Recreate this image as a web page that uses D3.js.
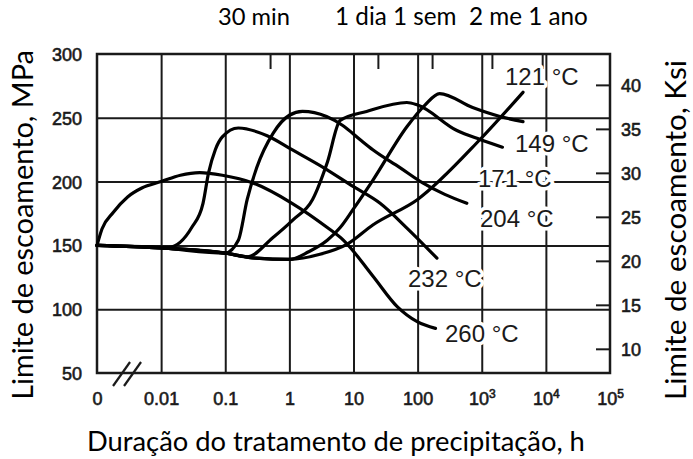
<!DOCTYPE html>
<html lang="pt">
<head>
<meta charset="UTF-8">
<title>Limite de escoamento x tempo de envelhecimento</title>
<style>
  body { margin: 0; background: #fff; }
  svg { display: block; }
  .curve-lbl { font-family: "Liberation Sans", Arial, sans-serif; font-size: 24px; fill: #1a1a1a;
               stroke: #fff; stroke-width: 7px; paint-order: stroke; stroke-linejoin: round; }
  .title { font-family: Lato, "Open Sans", sans-serif; fill: #000; white-space: pre; }
</style>
</head>
<body>
<script src="https://cdn.jsdelivr.net/npm/d3@7"></script>
<script>

var w = 693, h = 459;
var pLeft = 97, pRight = 610, pTop = 54, pBottom = 373;

// eixo x em horas (0 = inicio, desenhado uma decada antes de 0.01)
var xTicks = [0, 0.01, 0.1, 1, 10, 100, 1e3, 1e4, 1e5];
var xTickLabels = ["0", "0.01", "0.1", "1", "10", "100", "10|3", "10|4", "10|5"];
var mpaTicks = [50, 100, 150, 200, 250, 300];
var ksiTicks = [10, 15, 20, 25, 30, 35, 40];

// marcas no topo: 30 min, 1 dia, 1 semana, 2 meses, 1 ano (em horas)
var marcoHoras = [0.5, 24, 168, 1440, 8760];

// curvas: [horas, MPa]
var c121 = [[0,150],[0.01,148],[0.1,144],[0.3,140],[1,139],[3,143],[8,151],[20,166],[100,186],[940,233],[4400,270]];
var c149 = [[0,150],[0.01,148],[0.1,144],[0.3,140],[1,139],[2,145],[3.9,154],[6.2,164],[9.8,178],[20,201],[68,243],[130,260],[220,269],[720,258],[1920,251],[4400,247]];
var c171 = [[0,150],[0.01,148],[0.1,144],[0.22,141],[0.55,156],[1.14,170],[2.3,186],[3.9,215],[6.2,248],[16,255],[68,262],[100,260],[410,240],[940,233],[2100,227]];
var c204 = [[0,150],[0.01,148],[0.1,144],[0.16,154],[0.22,186],[0.31,211],[0.56,238],[1.0,252],[1.6,255],[3.8,251],[6.8,244],[12.6,233],[20,225],[53,211],[120,199],[265,190],[585,183]];
var c232 = [[0,150],[0.005,149],[0.013,148.5],[0.03,164],[0.045,183],[0.055,207],[0.07,225],[0.09,235],[0.16,242],[0.45,236],[1.1,225],[3.4,211],[10,196],[26,183],[70,163],[200,140]];
var c260 = [[0,150],[0.0012,163],[0.0018,176],[0.003,188],[0.005,195],[0.01,200],[0.02,205],[0.04,207],[0.09,205],[0.27,199],[1.1,183],[3.9,164],[7,154],[20,126],[48,102],[100,90],[190,85]];

var curvas = [c121, c149, c171, c204, c232, c260];
var rotulos = ["121 °C", "149 °C", "171 °C", "204 °C", "232 °C", "260 °C"];
// posicao dos rotulos (px)
var rotPos = [[505, 85], [515, 152], [478, 187], [480, 227], [408, 287], [445, 342]];

var x = d3.scaleLog().domain([0.001, 1e5]).range([pLeft, pRight]);
var y = d3.scaleLinear().domain([50, 300]).range([pBottom, pTop]);
var yKsi = d3.scaleLinear().domain([50 / 6.895, 300 / 6.895]).range([pBottom, pTop]);
function xPos(t) { return t === 0 ? x(0.001) : x(t); }

var svg = d3.select("body").append("svg")
            .attr("width", w)
            .attr("height", h);

var ink = "#1a1a1a";

function styleLines(g) {
  g.select(".domain").remove();
  g.selectAll("line").attr("stroke", ink).attr("stroke-width", 2);
}

// grade vertical
svg.append("g")
   .attr("transform", "translate(0," + pBottom + ")")
   .call(d3.axisBottom(x).tickValues(xTicks.slice(1, -1)).tickSize(-(pBottom - pTop)).tickFormat(""))
   .call(styleLines);

// grade horizontal
svg.append("g")
   .attr("transform", "translate(" + pLeft + ",0)")
   .call(d3.axisLeft(y).tickValues(mpaTicks.slice(1, -1)).tickSize(-(pRight - pLeft)).tickFormat(""))
   .call(styleLines);

// marcas ksi (para dentro, na borda direita)
svg.append("g")
   .attr("transform", "translate(" + pRight + ",0)")
   .call(d3.axisLeft(yKsi).tickValues(ksiTicks).tickSize(14).tickFormat(""))
   .call(styleLines);

// marcas de tempo no topo
svg.append("g")
   .attr("transform", "translate(0," + pTop + ")")
   .call(d3.axisBottom(x).tickValues(marcoHoras).tickSize(15).tickFormat(""))
   .call(styleLines);

// moldura
svg.append("rect")
   .attr("x", pLeft).attr("y", pTop)
   .attr("width", pRight - pLeft).attr("height", pBottom - pTop)
   .attr("fill", "none").attr("stroke", ink).attr("stroke-width", 2.5);

// curvas
var line = d3.line()
             .x(function(d) { return xPos(d[0]); })
             .y(function(d) { return y(d[1]); })
             .curve(d3.curveMonotoneX);

svg.selectAll("path.curva")
   .data(curvas)
   .enter()
   .append("path")
   .attr("class", "curva")
   .attr("d", line)
   .attr("fill", "none")
   .attr("stroke", "#000")
   .attr("stroke-width", 3.2)
   .attr("stroke-linecap", "round");

// rotulos das curvas
svg.selectAll("text.curve-lbl")
   .data(rotulos)
   .enter()
   .append("text")
   .attr("class", "curve-lbl")
   .attr("x", function(d, i) { return rotPos[i][0]; })
   .attr("y", function(d, i) { return rotPos[i][1]; })
   .text(function(d) { return d; });

// quebra do eixo "//"
var bx = x(0.001) + (x(0.01) - x(0.001)) * 0.25;
[0, 11].forEach(function(o) {
  svg.append("line")
     .attr("x1", bx + o).attr("y1", pBottom + 13)
     .attr("x2", bx + o + 17).attr("y2", pBottom - 11)
     .attr("stroke", ink).attr("stroke-width", 2.2);
});

function numFont(g) {
  g.attr("font-family", "'Liberation Sans', Arial, sans-serif")
   .attr("font-size", 18)
   .attr("fill", ink)
   .attr("stroke", ink)
   .attr("stroke-width", 0.6);
  g.select(".domain").remove();
}

// rotulos eixo x
var xl = svg.append("g")
   .attr("transform", "translate(0," + (pBottom + 32) + ")")
   .call(d3.axisBottom(x).tickValues(xTicks.map(function(t) { return t === 0 ? 0.001 : t; }))
           .tickSize(0).tickPadding(0).tickFormat(""))
   .call(numFont);
xl.selectAll(".tick text").each(function(d, i) {
  var parts = xTickLabels[i].split("|");
  var t = d3.select(this).attr("dy", null).attr("y", 0).attr("fill", ink);
  t.append("tspan").text(parts[0]);
  if (parts[1]) t.append("tspan").attr("dy", -7).attr("font-size", 12).text(parts[1]);
});

// rotulos MPa
svg.append("g")
   .attr("transform", "translate(82,0)")
   .call(d3.axisLeft(y).tickValues(mpaTicks).tickSize(0).tickPadding(0))
   .call(numFont)
   .selectAll("text").attr("dy", "0.36em").attr("fill", ink);

// rotulos ksi
svg.append("g")
   .attr("transform", "translate(621,0)")
   .call(d3.axisRight(yKsi).tickValues(ksiTicks).tickSize(0).tickPadding(0))
   .call(numFont)
   .selectAll("text").attr("dy", "0.36em").attr("fill", ink);

// titulos (ajustados a largura)
function fit(sel, width) {
  var len = sel.node().getComputedTextLength();
  var fs = parseFloat(sel.attr("font-size"));
  sel.attr("font-size", fs * width / len);
}

fit(svg.append("text").attr("class", "title").attr("font-size", 22)
       .attr("x", 218).attr("y", 25).text("30 min"), 72);
fit(svg.append("text").attr("class", "title").attr("font-size", 22)
       .attr("x", 335).attr("y", 25).text("1 dia 1 sem  2 me 1 ano"), 253);
fit(svg.append("text").attr("class", "title").attr("font-size", 22)
       .attr("x", 87).attr("y", 451).text("Duração do tratamento de precipitação, h"), 498);
fit(svg.append("text").attr("class", "title").attr("font-size", 22)
       .attr("text-anchor", "middle")
       .attr("transform", "translate(33,225) rotate(-90)")
       .text("Limite de escoamento, MPa"), 350);
fit(svg.append("text").attr("class", "title").attr("font-size", 22)
       .attr("text-anchor", "middle")
       .attr("transform", "translate(686,230) rotate(-90)")
       .text("Limite de escoamento, Ksi"), 340);

</script>
</body>
</html>
